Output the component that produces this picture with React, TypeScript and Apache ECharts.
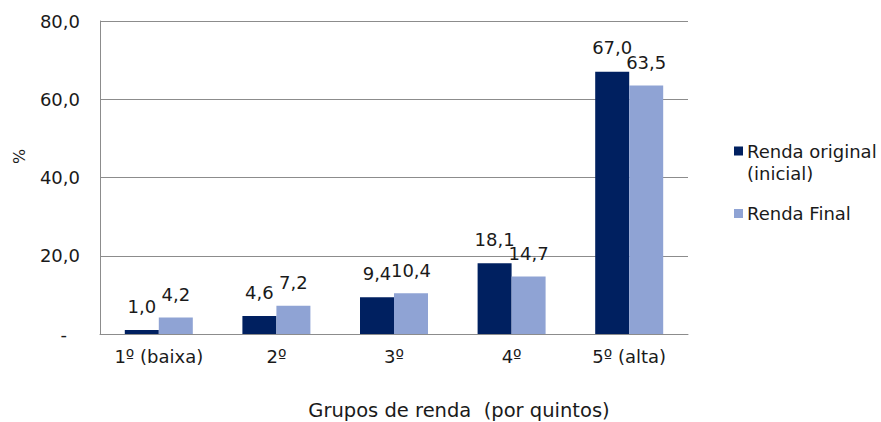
import React, { useEffect, useRef } from "react";
import * as echarts from "echarts";

const categories = ["1º (baixa)", "2º", "3º", "4º", "5º (alta)"];
const rendaOriginal = [1.0, 4.6, 9.4, 18.1, 67.0];
const rendaFinal = [4.2, 7.2, 10.4, 14.7, 63.5];
const seriesNames = ["Renda original\n(inicial)", "Renda Final"];
const yTicks = { min: 0, max: 80, interval: 20 };

const FONT = "'DejaVu Sans', sans-serif";
const FS = 18;

export default function App() {
  const ref = useRef<HTMLDivElement>(null);
  useEffect(() => {
    document.body.style.margin = "0";
    const chart = echarts.init(ref.current!, null, { renderer: "svg" });
    const fmt = (v: number) => v.toFixed(1).replace(".", ",");
    chart.setOption({
      animation: false,
      backgroundColor: "#ffffff",
      textStyle: { fontFamily: FONT },
      grid: { left: 100, right: 193, top: 21, bottom: 88, containLabel: false },
      legend: {
        orient: "vertical",
        left: 729,
        top: 135,
        itemWidth: 9,
        itemHeight: 31,
        itemGap: 14,
        textStyle: { fontSize: FS, color: "#1a1a1a", fontFamily: FONT, lineHeight: 22, padding: [0, 0, 0, -1] },
        data: [
          { name: seriesNames[0], icon: "path://M0,0h9v9h-9z M0,30.99h0.01v0.01h-0.01z" },
          { name: seriesNames[1], icon: "path://M0,11h9v9h-9z M0,0h0.01v0.01h-0.01z M0,30.99h0.01v0.01h-0.01z" },
        ],
      },
      xAxis: {
        type: "category",
        data: categories,
        axisLine: { show: true, lineStyle: { color: "#8c8c8c", width: 1 } },
        axisTick: { show: false },
        axisLabel: { fontSize: FS, color: "#1a1a1a", margin: 13, fontFamily: FONT },
      },
      yAxis: {
        type: "value",
        min: yTicks.min,
        max: yTicks.max,
        interval: yTicks.interval,
        axisLine: { show: true, lineStyle: { color: "#8c8c8c", width: 1 } },
        axisTick: { show: false },
        splitLine: { show: true, lineStyle: { color: "#8c8c8c", width: 1 } },
        axisLabel: {
          fontSize: FS,
          color: "#1a1a1a",
          margin: 20,
          fontFamily: FONT,
          formatter: (v: number) => (v === 0 ? "{z|-}" : fmt(v)),
          rich: {
            z: { fontSize: FS, color: "#1a1a1a", fontFamily: FONT, padding: [0, 13, 0, 0] },
          },
        },
      },
      graphic: [
        {
          type: "text",
          x: 459,
          y: 400,
          style: { text: "Grupos de renda  (por quintos)", fontSize: 19.5, fill: "#1a1a1a", fontFamily: FONT, textAlign: "center" },
        },
        {
          type: "text",
          x: 11,
          y: 164,
          rotation: Math.PI / 2,
          style: { text: "%", fontSize: 16, fill: "#1a1a1a", fontFamily: FONT },
        },
      ],
      series: [
        {
          name: seriesNames[0],
          type: "bar",
          data: rendaOriginal,
          barWidth: 34,
          barGap: "0%",
          itemStyle: { color: "#002060" },
          label: {
            show: true,
            position: "top",
            distance: 15,
            fontSize: FS,
            color: "#1a1a1a",
            fontFamily: FONT,
            formatter: (p: any) => fmt(p.value),
          },
        },
        {
          name: seriesNames[1],
          type: "bar",
          data: rendaFinal,
          barWidth: 34,
          barGap: "0%",
          itemStyle: { color: "#8fa3d4" },
          label: {
            show: true,
            position: "top",
            distance: 14,
            fontSize: FS,
            color: "#1a1a1a",
            fontFamily: FONT,
            formatter: (p: any) => fmt(p.value),
          },
        },
      ],
    });
    return () => chart.dispose();
  }, []);
  return <div ref={ref} style={{ width: 881, height: 422 }} />;
}
